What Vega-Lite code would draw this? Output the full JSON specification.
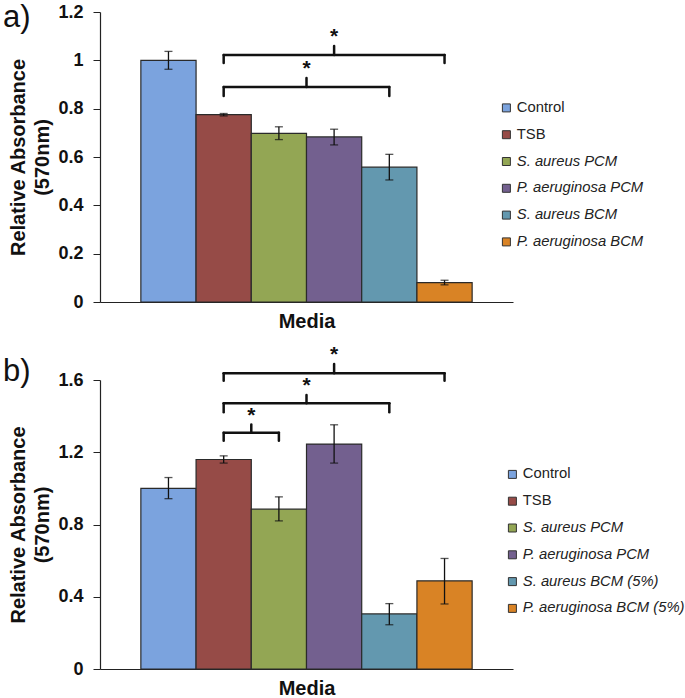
{
  "$schema": "https://vega.github.io/schema/vega-lite/v6.json",
  "padding": {"left": 1, "top": 2, "right": 0, "bottom": 2},
  "background": "white",
  "config": {
    "font": "Liberation Sans",
    "view": {"stroke": null},
    "concat": {"spacing": 12},
    "axis": {"labelOverlap": false},
    "axisY": {"labelOverlap": false}
  },
  "datasets": {
    "barsA": [
      {"medium": "Control", "value": 1.0, "lo": 0.963, "hi": 1.037},
      {"medium": "TSB", "value": 0.775, "lo": 0.77, "hi": 0.78},
      {"medium": "S. aureus PCM", "value": 0.698, "lo": 0.672, "hi": 0.725},
      {"medium": "P. aeruginosa PCM", "value": 0.683, "lo": 0.65, "hi": 0.715},
      {"medium": "S. aureus BCM", "value": 0.558, "lo": 0.505, "hi": 0.611},
      {"medium": "P. aeruginosa BCM", "value": 0.08, "lo": 0.071, "hi": 0.09}
    ],
    "brA": [
      {"from": "TSB", "to": "P. aeruginosa BCM", "level": 1.022, "foot": 0.989, "mid": "P. aeruginosa PCM", "midAt": "center", "peak": 1.059},
      {"from": "TSB", "to": "S. aureus BCM", "level": 0.89, "foot": 0.852, "mid": "S. aureus PCM", "midAt": "edge", "peak": 0.927}
    ],
    "barsB": [
      {"medium": "Control", "value": 1.0, "lo": 0.943, "hi": 1.06},
      {"medium": "TSB", "value": 1.16, "lo": 1.14, "hi": 1.18},
      {"medium": "S. aureus PCM", "value": 0.885, "lo": 0.82, "hi": 0.953},
      {"medium": "P. aeruginosa PCM", "value": 1.245, "lo": 1.14, "hi": 1.352},
      {"medium": "S. aureus BCM (5%)", "value": 0.305, "lo": 0.245, "hi": 0.362},
      {"medium": "P. aeruginosa BCM (5%)", "value": 0.488, "lo": 0.36, "hi": 0.612}
    ],
    "brB": [
      {"from": "TSB", "to": "P. aeruginosa BCM (5%)", "level": 1.637, "foot": 1.596, "mid": "P. aeruginosa PCM", "midAt": "center", "peak": 1.689},
      {"from": "TSB", "to": "S. aureus BCM (5%)", "level": 1.471, "foot": 1.421, "mid": "S. aureus PCM", "midAt": "edge", "peak": 1.517},
      {"from": "TSB", "to": "S. aureus PCM", "level": 1.308, "foot": 1.264, "mid": "TSB", "midAt": "edge", "peak": 1.353}
    ]
  },
  "resolve": {"scale": {"x": "independent", "y": "independent", "color": "independent", "opacity": "independent"}},
  "vconcat": [
    {
      "width": 413,
      "height": 290,
      "layer": [
        {
          "data": {"name": "barsA"},
          "mark": {"type": "bar", "stroke": "#2a2a2a", "strokeWidth": 1.2},
          "encoding": {
            "x": {"field": "medium", "type": "nominal", "sort": null,
              "scale": {"domain": ["Control", "TSB", "S. aureus PCM", "P. aeruginosa PCM", "S. aureus BCM", "P. aeruginosa BCM"], "paddingInner": 0, "paddingOuter": 0.74},
              "axis": {"labels": false, "ticks": false, "title": "Media", "titleFontSize": 20, "titleFontWeight": "bold", "titleColor": "#111", "titlePadding": 9, "domainColor": "#222", "domainWidth": 1.2}},
            "y": {"field": "value", "type": "quantitative",
              "scale": {"domain": [0, 1.2], "nice": false},
              "axis": {"values": [0, 0.2, 0.4, 0.6, 0.8, 1, 1.2], "format": "~g", "grid": false, "labelOverlap": false, "title": ["Relative Absorbance", "(570nm)"], "titleFontSize": 20, "titleFontWeight": "bold", "titleColor": "#111", "titleLineHeight": 24, "titlePadding": 5, "labelFontSize": 18, "labelFontWeight": "bold", "labelColor": "#111", "labelPadding": 10, "tickSize": 7, "tickColor": "#222", "domainColor": "#222", "domainWidth": 1.2}},
            "color": {"field": "medium", "type": "nominal",
              "scale": {"domain": ["Control", "TSB", "S. aureus PCM", "P. aeruginosa PCM", "S. aureus BCM", "P. aeruginosa BCM"], "range": ["#7ba3de", "#964b47", "#93a654", "#73608f", "#6398af", "#d98325"]},
              "legend": {"title": null, "orient": "none", "legendX": 399, "legendY": 88.5, "labelFontSize": 14.8, "labelColor": "#222", "labelLimit": 300, "symbolType": "square", "symbolSize": 64, "symbolStrokeColor": "#333", "symbolStrokeWidth": 1, "rowPadding": 10.8, "labelOffset": 3,
                "encode": {"labels": {"update": {"fontStyle": {"signal": "datum.label == 'Control' || datum.label == 'TSB' ? 'normal' : 'italic'"}}}}}}
          }
        },
        {
          "data": {"name": "barsA"},
          "mark": {"type": "rule", "color": "#111", "strokeWidth": 1.3},
          "encoding": {"x": {"field": "medium", "type": "nominal"}, "y": {"field": "lo", "type": "quantitative"}, "y2": {"field": "hi"},
            "opacity": {"datum": "a)", "type": "ordinal", "scale": {"range": [1]},
              "legend": {"title": null, "orient": "none", "legendX": -99, "legendY": -10, "padding": 0, "labelFontSize": 31, "labelColor": "#111", "labelOffset": -29, "symbolSize": 0, "symbolOpacity": 0, "symbolStrokeWidth": 0, "labelLimit": 100}}}
        },
        {
          "data": {"name": "barsA"},
          "mark": {"type": "tick", "color": "#111", "size": 8, "thickness": 1.3},
          "encoding": {"x": {"field": "medium", "type": "nominal"}, "y": {"field": "lo", "type": "quantitative"}}
        },
        {
          "data": {"name": "barsA"},
          "mark": {"type": "tick", "color": "#111", "size": 8, "thickness": 1.3},
          "encoding": {"x": {"field": "medium", "type": "nominal"}, "y": {"field": "hi", "type": "quantitative"}}
        },
        {
          "data": {"name": "brA"},
          "mark": {"type": "rule", "color": "#111", "strokeWidth": 2.5, "strokeCap": "round"},
          "encoding": {"x": {"field": "from", "type": "nominal"}, "x2": {"field": "to"}, "y": {"field": "level", "type": "quantitative"}}
        },
        {
          "data": {"name": "brA"},
          "mark": {"type": "rule", "color": "#111", "strokeWidth": 2.5, "strokeCap": "round"},
          "encoding": {"x": {"field": "from", "type": "nominal"}, "y": {"field": "level", "type": "quantitative"}, "y2": {"field": "foot"}}
        },
        {
          "data": {"name": "brA"},
          "mark": {"type": "rule", "color": "#111", "strokeWidth": 2.5, "strokeCap": "round"},
          "encoding": {"x": {"field": "to", "type": "nominal"}, "y": {"field": "level", "type": "quantitative"}, "y2": {"field": "foot"}}
        },
        {
          "data": {"name": "brA"},
          "transform": [{"filter": "datum.midAt == 'center'"}],
          "layer": [
            {"mark": {"type": "rule", "color": "#111", "strokeWidth": 2.5, "strokeCap": "round"},
             "encoding": {"x": {"field": "mid", "type": "nominal", "bandPosition": 0.5}, "y": {"field": "level", "type": "quantitative"}, "y2": {"field": "peak"}}},
            {"mark": {"type": "text", "text": "*", "fontSize": 21, "fontWeight": "bold", "color": "#111", "baseline": "alphabetic", "dy": -3},
             "encoding": {"x": {"field": "mid", "type": "nominal", "bandPosition": 0.5}, "y": {"field": "peak", "type": "quantitative"}}}
          ]
        },
        {
          "data": {"name": "brA"},
          "transform": [{"filter": "datum.midAt == 'edge'"}],
          "layer": [
            {"mark": {"type": "rule", "color": "#111", "strokeWidth": 2.5, "strokeCap": "round"},
             "encoding": {"x": {"field": "mid", "type": "nominal", "bandPosition": 1}, "y": {"field": "level", "type": "quantitative"}, "y2": {"field": "peak"}}},
            {"mark": {"type": "text", "text": "*", "fontSize": 21, "fontWeight": "bold", "color": "#111", "baseline": "alphabetic", "dy": -3},
             "encoding": {"x": {"field": "mid", "type": "nominal", "bandPosition": 1}, "y": {"field": "peak", "type": "quantitative"}}}
          ]
        }
      ]
    },
    {
      "width": 413,
      "height": 289,
      "layer": [
        {
          "data": {"name": "barsB"},
          "mark": {"type": "bar", "stroke": "#2a2a2a", "strokeWidth": 1.2},
          "encoding": {
            "x": {"field": "medium", "type": "nominal", "sort": null,
              "scale": {"domain": ["Control", "TSB", "S. aureus PCM", "P. aeruginosa PCM", "S. aureus BCM (5%)", "P. aeruginosa BCM (5%)"], "paddingInner": 0, "paddingOuter": 0.74},
              "axis": {"labels": false, "ticks": false, "title": "Media", "titleFontSize": 20, "titleFontWeight": "bold", "titleColor": "#111", "titlePadding": 9, "domainColor": "#222", "domainWidth": 1.2}},
            "y": {"field": "value", "type": "quantitative",
              "scale": {"domain": [0, 1.6], "nice": false},
              "axis": {"values": [0, 0.2, 0.4, 0.6, 0.8, 1, 1.2, 1.4, 1.6], "format": "~g", "grid": false, "labelOverlap": false, "title": ["Relative Absorbance", "(570nm)"], "titleFontSize": 20, "titleFontWeight": "bold", "titleColor": "#111", "titleLineHeight": 24, "titlePadding": 5, "labelFontSize": 18, "labelFontWeight": "bold", "labelColor": "#111", "labelPadding": 10, "tickSize": 7, "tickColor": "#222", "domainColor": "#222", "domainWidth": 1.2}},
            "color": {"field": "medium", "type": "nominal",
              "scale": {"domain": ["Control", "TSB", "S. aureus PCM", "P. aeruginosa PCM", "S. aureus BCM (5%)", "P. aeruginosa BCM (5%)"], "range": ["#7ba3de", "#964b47", "#93a654", "#73608f", "#6398af", "#d98325"]},
              "legend": {"title": null, "orient": "none", "legendX": 405, "legendY": 87, "labelFontSize": 14.8, "labelColor": "#222", "labelLimit": 300, "symbolType": "square", "symbolSize": 64, "symbolStrokeColor": "#333", "symbolStrokeWidth": 1, "rowPadding": 10.8, "labelOffset": 3,
                "encode": {"labels": {"update": {"fontStyle": {"signal": "datum.label == 'Control' || datum.label == 'TSB' ? 'normal' : 'italic'"}}}}}}
          }
        },
        {
          "data": {"name": "barsB"},
          "mark": {"type": "rule", "color": "#111", "strokeWidth": 1.3},
          "encoding": {"x": {"field": "medium", "type": "nominal"}, "y": {"field": "lo", "type": "quantitative"}, "y2": {"field": "hi"},
            "opacity": {"datum": "b)", "type": "ordinal", "scale": {"range": [1]},
              "legend": {"title": null, "orient": "none", "legendX": -99, "legendY": -24, "padding": 0, "labelFontSize": 31, "labelColor": "#111", "labelOffset": -29, "symbolSize": 0, "symbolOpacity": 0, "symbolStrokeWidth": 0, "labelLimit": 100}}}
        },
        {
          "data": {"name": "barsB"},
          "mark": {"type": "tick", "color": "#111", "size": 8, "thickness": 1.3},
          "encoding": {"x": {"field": "medium", "type": "nominal"}, "y": {"field": "lo", "type": "quantitative"}}
        },
        {
          "data": {"name": "barsB"},
          "mark": {"type": "tick", "color": "#111", "size": 8, "thickness": 1.3},
          "encoding": {"x": {"field": "medium", "type": "nominal"}, "y": {"field": "hi", "type": "quantitative"}}
        },
        {
          "data": {"name": "brB"},
          "mark": {"type": "rule", "color": "#111", "strokeWidth": 2.5, "strokeCap": "round"},
          "encoding": {"x": {"field": "from", "type": "nominal"}, "x2": {"field": "to"}, "y": {"field": "level", "type": "quantitative"}}
        },
        {
          "data": {"name": "brB"},
          "mark": {"type": "rule", "color": "#111", "strokeWidth": 2.5, "strokeCap": "round"},
          "encoding": {"x": {"field": "from", "type": "nominal"}, "y": {"field": "level", "type": "quantitative"}, "y2": {"field": "foot"}}
        },
        {
          "data": {"name": "brB"},
          "mark": {"type": "rule", "color": "#111", "strokeWidth": 2.5, "strokeCap": "round"},
          "encoding": {"x": {"field": "to", "type": "nominal"}, "y": {"field": "level", "type": "quantitative"}, "y2": {"field": "foot"}}
        },
        {
          "data": {"name": "brB"},
          "transform": [{"filter": "datum.midAt == 'center'"}],
          "layer": [
            {"mark": {"type": "rule", "color": "#111", "strokeWidth": 2.5, "strokeCap": "round"},
             "encoding": {"x": {"field": "mid", "type": "nominal", "bandPosition": 0.5}, "y": {"field": "level", "type": "quantitative"}, "y2": {"field": "peak"}}},
            {"mark": {"type": "text", "text": "*", "fontSize": 21, "fontWeight": "bold", "color": "#111", "baseline": "alphabetic", "dy": -3},
             "encoding": {"x": {"field": "mid", "type": "nominal", "bandPosition": 0.5}, "y": {"field": "peak", "type": "quantitative"}}}
          ]
        },
        {
          "data": {"name": "brB"},
          "transform": [{"filter": "datum.midAt == 'edge'"}],
          "layer": [
            {"mark": {"type": "rule", "color": "#111", "strokeWidth": 2.5, "strokeCap": "round"},
             "encoding": {"x": {"field": "mid", "type": "nominal", "bandPosition": 1}, "y": {"field": "level", "type": "quantitative"}, "y2": {"field": "peak"}}},
            {"mark": {"type": "text", "text": "*", "fontSize": 21, "fontWeight": "bold", "color": "#111", "baseline": "alphabetic", "dy": -3},
             "encoding": {"x": {"field": "mid", "type": "nominal", "bandPosition": 1}, "y": {"field": "peak", "type": "quantitative"}}}
          ]
        }
      ]
    }
  ]
}
